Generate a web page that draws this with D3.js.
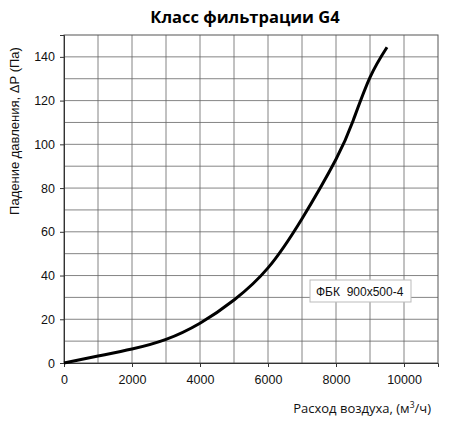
<!DOCTYPE html>
<html>
<head>
<meta charset="utf-8">
<script src="https://cdn.jsdelivr.net/npm/d3@7"></script>
<style>
  body { margin: 0; background: #fff; }
  svg { display: block; }
</style>
</head>
<body>
<div id="chart"></div>
<script>
  // air flow (m3/h) and pressure drop (Pa)
  const flow = [0, 1000, 2000, 3000, 4000, 5000, 6000, 7000, 8000, 8500, 9000, 9500];
  const drop = [0, 3.2, 6.4, 10.8, 18.2, 28.8, 43.5, 66, 93.2, 110.7, 130.6, 144.4];
  const xTicks = [0, 2000, 4000, 6000, 8000, 10000];
  const yTicks = [0, 20, 40, 60, 80, 100, 120, 140];
  const seriesName = "ФБК  900x500-4";

  const [width, height] = [449, 422];
  const margin = { top: 35, right: 11, bottom: 59, left: 64 };

  const svg = d3.select("#chart")
    .append("svg")
    .attr("width", width)
    .attr("height", height);

  const x = d3.scaleLinear()
    .domain([0, 11000])
    .range([margin.left, width - margin.right]);

  const y = d3.scaleLinear()
    .domain([0, 150])
    .range([height - margin.bottom, margin.top]);

  // grid every 1000 / 10
  svg.append("g")
    .selectAll("line")
    .data(d3.range(1000, 11000, 1000))
    .enter().append("line")
    .attr("x1", d => x(d)).attr("x2", d => x(d))
    .attr("y1", y(0)).attr("y2", y(150))
    .attr("stroke", "#666").attr("stroke-width", 0.8);

  svg.append("g")
    .selectAll("line")
    .data(d3.range(10, 150, 10))
    .enter().append("line")
    .attr("x1", x(0)).attr("x2", x(11000))
    .attr("y1", d => y(d)).attr("y2", d => y(d))
    .attr("stroke", "#666").attr("stroke-width", 0.8);

  // frame
  svg.append("rect")
    .attr("x", x(0)).attr("y", y(150))
    .attr("width", x(11000) - x(0))
    .attr("height", y(0) - y(150))
    .attr("fill", "none")
    .attr("stroke", "#555").attr("stroke-width", 1);

  const xAxis = svg.append("g")
    .attr("transform", `translate(0,${y(0)})`)
    .call(d3.axisBottom(x).tickValues(xTicks).tickSize(4).tickPadding(8).tickFormat(d3.format("d")));

  const yAxis = svg.append("g")
    .attr("transform", `translate(${x(0)},0)`)
    .call(d3.axisLeft(y).tickValues(yTicks).tickSize(4).tickPadding(5));

  [xAxis, yAxis].forEach(g => {
    g.select(".domain").attr("stroke", "#333");
    g.selectAll(".tick line").attr("stroke", "#333");
    g.selectAll("text")
      .attr("font-family", "Liberation Sans, Arial, sans-serif")
      .attr("font-size", 12.5)
      .attr("fill", "#111");
  });

  // the curve
  const line = d3.line()
    .x((d, i) => x(flow[i]))
    .y(d => y(d))
    .curve(d3.curveNatural);

  svg.append("path")
    .datum(drop)
    .attr("d", line)
    .attr("fill", "none")
    .attr("stroke", "#000")
    .attr("stroke-width", 3);

  // legend box
  const leg = svg.append("g").attr("transform", "translate(310,280)");
  leg.append("rect")
    .attr("width", 101).attr("height", 22)
    .attr("fill", "#fff")
    .attr("stroke", "#bbb");
  leg.append("text")
    .attr("x", 6).attr("y", 15.5)
    .attr("font-family", "Liberation Sans, Arial, sans-serif")
    .attr("font-size", 12)
    .attr("fill", "#111")
    .attr("xml:space", "preserve")
    .style("white-space", "pre")
    .text(seriesName);

  // titles
  svg.append("text")
    .attr("x", 245).attr("y", 23)
    .attr("text-anchor", "middle")
    .attr("font-family", "Open Sans, sans-serif")
    .attr("font-weight", "bold")
    .attr("font-size", 16.5)
    .attr("fill", "#000")
    .text("Класс фильтрации G4");

  svg.append("text")
    .attr("transform", "translate(19,131) rotate(-90)")
    .attr("text-anchor", "middle")
    .attr("font-family", "Liberation Sans, Arial, sans-serif")
    .attr("font-size", 13)
    .attr("fill", "#111")
    .text("Падение давления, ΔР (Па)");

  const xt = svg.append("text")
    .attr("x", 431).attr("y", 413)
    .attr("text-anchor", "end")
    .attr("font-family", "Open Sans, sans-serif")
    .attr("font-size", 13)
    .attr("fill", "#111")
    .text("Расход воздуха, (м");
  xt.append("tspan").attr("dy", -5).attr("font-size", 8.5).text("3");
  xt.append("tspan").attr("dy", 5).text("/ч)");
</script>
</body>
</html>
